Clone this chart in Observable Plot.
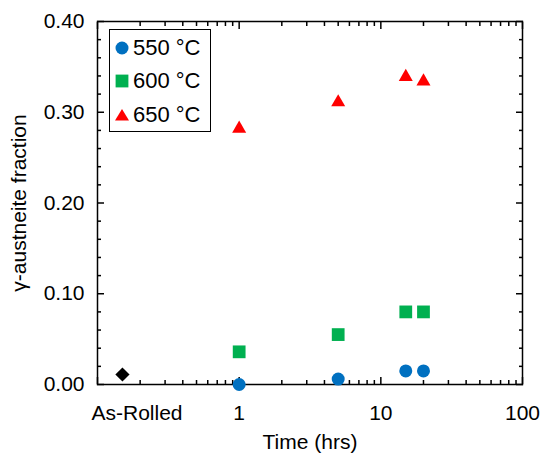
<!DOCTYPE html>
<html><head><meta charset="utf-8">
<script src="https://cdn.jsdelivr.net/npm/d3@7"></script>
<script src="https://cdn.jsdelivr.net/npm/@observablehq/plot@0.6"></script>
<style>
body{margin:0;background:#fff;font-family:"Liberation Sans",Arial,sans-serif;}
#wrap{position:relative;width:541px;height:455px;}
#legend{position:absolute;left:109px;top:29px;width:100px;height:100px;border:1.5px solid #000;background:#fff;box-sizing:content-box;padding-top:1px;}
.row{height:33.5px;display:flex;align-items:center;font-size:22px;color:#000;}
.row svg{margin-left:4px;margin-right:3px;}
</style></head><body><div id="wrap"></div>
<script>
// Data
const seriesNames = ["550 °C", "600 °C", "650 °C"];
const seriesColors = ["#0070C0", "#00B050", "#FF0000"];
const seriesSymbols = ["circle", "square", "triangle"];
const times = [1, 5, 15, 20];
const frac550 = [0.000, 0.006, 0.015, 0.015];
const frac600 = [0.036, 0.055, 0.080, 0.080];
const frac650 = [0.282, 0.311, 0.339, 0.334];
const asRolledTime = [0.15];
const asRolledFrac = [0.011];
const xTickValues = [0.19, 1, 10, 100];
const xTickLabels = ["As-Rolled", "1", "10", "100"];
const yTickValues = [0, 0.1, 0.2, 0.3, 0.4];

const mk = (xs, ys) => xs.map((t, i) => ({t, f: ys[i]}));
const d550 = mk(times, frac550), d600 = mk(times, frac600), d650 = mk(times, frac650);
const dAs = mk(asRolledTime, asRolledFrac);
const xLabelData = xTickValues.map((v, i) => ({v, label: xTickLabels[i]}));

const xDomain = [0.1, 100];
const xAll = d3.scaleLog().domain(xDomain).ticks();
const xMajor = [0.1, 1, 10, 100];
const xMinor = xAll.filter(v => !xMajor.some(m => Math.abs(m - v) < 1e-9));
const yMinor = d3.ticks(0, 0.4, 20).filter(v => !yTickValues.some(m => Math.abs(m - v) < 1e-9));

const blank = () => "";
const tk = {stroke: "black", strokeWidth: 1.5, tickFormat: blank, label: null};

const chart = Plot.plot({
  width: 541, height: 455,
  marginLeft: 97, marginRight: 19, marginTop: 21, marginBottom: 71,
  style: {fontFamily: "'Liberation Sans', Arial, sans-serif", fontSize: "21px", color: "black", background: "white"},
  x: {type: "log", domain: xDomain},
  y: {domain: [0, 0.4]},
  marks: [
    Plot.frame({stroke: "black", strokeWidth: 1.5}),
    Plot.axisX(xMajor, {...tk, anchor: "bottom", tickSize: -7}),
    Plot.axisX(xMinor, {...tk, anchor: "bottom", tickSize: -4}),
    Plot.axisX(xMajor, {...tk, anchor: "top", tickSize: -7}),
    Plot.axisX(xMinor, {...tk, anchor: "top", tickSize: -4}),
    Plot.axisY(yTickValues, {...tk, anchor: "left", tickSize: -7}),
    Plot.axisY(yMinor, {...tk, anchor: "left", tickSize: -4}),
    Plot.axisY(yTickValues, {...tk, anchor: "right", tickSize: -7}),
    Plot.axisY(yMinor, {...tk, anchor: "right", tickSize: -4}),
    Plot.axisX([], {anchor: "bottom", tickSize: 0,
      label: "Time (hrs)", labelAnchor: "center", labelOffset: 64, labelArrow: "none"}),
    Plot.text(xLabelData, {x: "v", text: "label", frameAnchor: "bottom", lineAnchor: "top", dy: 21, fill: "black", fontSize: 21}),
    Plot.axisY(yTickValues, {anchor: "left", tickSize: 0, tickPadding: 13,
      tickFormat: d => d.toFixed(2),
      label: "γ-austneite fraction", labelAnchor: "center", labelOffset: 86, labelArrow: "none"}),
    Plot.dot(dAs, {x: "t", y: "f", symbol: "diamond2", r: 6.4, fill: "black"}),
    Plot.dot(d550, {x: "t", y: "f", symbol: seriesSymbols[0], r: 6.5, fill: seriesColors[0]}),
    Plot.dot(d600, {x: "t", y: "f", symbol: seriesSymbols[1], r: 7.2, fill: seriesColors[1]}),
    Plot.dot(d650, {x: "t", y: "f", symbol: seriesSymbols[2], r: 5.2, fill: seriesColors[2]})
  ]
});
const wrap = document.getElementById("wrap");
wrap.appendChild(chart);

// Legend
const legend = document.createElement("div");
legend.id = "legend";
const symPath = {
  circle: '<circle cx="8" cy="8" r="6.5"/>',
  square: '<rect x="1.6" y="1.6" width="12.8" height="12.8"/>',
  triangle: '<path d="M8,2 L15,13.5 L1,13.5 Z"/>'
};
seriesNames.forEach((name, i) => {
  const row = document.createElement("div");
  row.className = "row";
  row.innerHTML = `<svg width="16" height="16" viewBox="0 0 16 16" fill="${seriesColors[i]}">${symPath[seriesSymbols[i]]}</svg><span>${name}</span>`;
  legend.appendChild(row);
});
wrap.appendChild(legend);
</script>
</body></html>
